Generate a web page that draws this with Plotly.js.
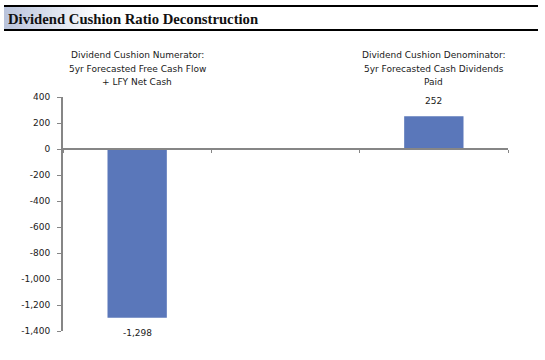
<!DOCTYPE html>
<html>
<head>
<meta charset="utf-8">
<script src="https://cdn.plot.ly/plotly-3.0.1.min.js"></script>
<style>
html,body{margin:0;padding:0;background:#fff;}
#chart{width:545px;height:360px;}
</style>
</head>
<body>
<div id="chart"></div>
<script>
// ---- data ----
var categories = ["numerator", "gap", "denominator"];
var categoryTitles = [
  ["Dividend Cushion Numerator:", "5yr Forecasted Free Cash Flow", "+ LFY Net Cash"],
  [],
  ["Dividend Cushion Denominator:", "5yr Forecasted Cash Dividends", "Paid"]
];
var values = [-1298, null, 252];
var yTickVals = [400, 200, 0, -200, -400, -600, -800, -1000, -1200, -1400];
var yTickText = yTickVals.map(function(v){ return v.toLocaleString("en-US"); });
var chartTitle = "Dividend Cushion Ratio Deconstruction";

var labelFont = {family: "'DejaVu Sans', Verdana, sans-serif", size: 9, color: "#1a1a1a"};

var trace = {
  type: "bar",
  x: categories,
  y: values,
  width: 0.4,
  marker: {color: "#5a77ba"},
  cliponaxis: false,
  hoverinfo: "none"
};

var yMin = -1400, yMax = 400;
var zeroPos = (0 - yMin) / (yMax - yMin);

var annotations = [];
var lineGap = 13.5;
categories.forEach(function(c, i){
  var lines = categoryTitles[i];
  lines.forEach(function(line, k){
    annotations.push({
      x: c, xref: "x", y: 1, yref: "paper",
      yshift: 15 + (lines.length - 1 - k) * lineGap,
      text: line, showarrow: false,
      font: labelFont, align: "center",
      xanchor: "center", yanchor: "middle"
    });
  });
  if (values[i] !== null) {
    annotations.push({
      x: c, xref: "x", y: values[i], yref: "y",
      yshift: values[i] >= 0 ? 15 : -15,
      text: values[i].toLocaleString("en-US"), showarrow: false,
      font: labelFont, xanchor: "center", yanchor: "middle"
    });
  }
});

var W = 545, H = 360, mL = 63, mR = 37, mT = 97, mB = 29;
var pw = W - mL - mR, ph = H - mT - mB;
function px2x(p){ return (p - mL) / pw; }
function py2y(p){ return (H - mB - p) / ph; }

annotations.push({
  x: px2x(6), xref: "paper", y: py2y(19), yref: "paper",
  xanchor: "left", yanchor: "middle",
  text: "<b>" + chartTitle + "</b>",
  showarrow: false,
  font: {family: "'Liberation Serif', 'Times New Roman', serif", size: 14.7, color: "#111"}
});

var shapes = [];
// gradient band behind title
var gx0 = 4, gx1 = 100, steps = 32;
for (var s = 0; s < steps; s++) {
  var t = s / steps;
  var r = Math.round(186 + (255 - 186) * t);
  var g = Math.round(196 + (255 - 196) * t);
  var b = Math.round(220 + (255 - 220) * t);
  shapes.push({
    type: "rect", xref: "paper", yref: "paper", layer: "below",
    x0: px2x(gx0 + (gx1 - gx0) * s / steps),
    x1: px2x(gx0 + (gx1 - gx0) * (s + 1) / steps + 0.5),
    y0: py2y(30), y1: py2y(7), line: {width: 0},
    fillcolor: "rgb(" + r + "," + g + "," + b + ")"
  });
}
[6, 30].forEach(function(py){
  shapes.push({type: "line", xref: "paper", yref: "paper",
    x0: px2x(4), x1: px2x(538), y0: py2y(py), y1: py2y(py),
    line: {color: "#000", width: 2}});
});

var layout = {
  width: W, height: H,
  margin: {l: mL, r: mR, t: mT, b: mB},
  paper_bgcolor: "#fff", plot_bgcolor: "rgba(0,0,0,0)",
  showlegend: false,
  xaxis: {
    type: "category",
    anchor: "free", position: zeroPos,
    showline: true, linecolor: "#868686", linewidth: 2,
    ticks: "outside", tickson: "boundaries", ticklen: 3, tickcolor: "#868686", tickwidth: 1,
    showticklabels: false, showgrid: false, zeroline: false,
    fixedrange: true
  },
  yaxis: {
    range: [yMin, yMax],
    tickvals: yTickVals, ticktext: yTickText,
    showline: true, linecolor: "#868686", linewidth: 2,
    ticks: "outside", ticklen: 4, tickcolor: "#868686", tickwidth: 1,
    ticklabelstandoff: 5,
    tickfont: labelFont,
    showgrid: false, zeroline: false,
    fixedrange: true
  },
  annotations: annotations,
  shapes: shapes
};

Plotly.newPlot("chart", [trace], layout, {displayModeBar: false, staticPlot: true});
</script>
</body>
</html>
